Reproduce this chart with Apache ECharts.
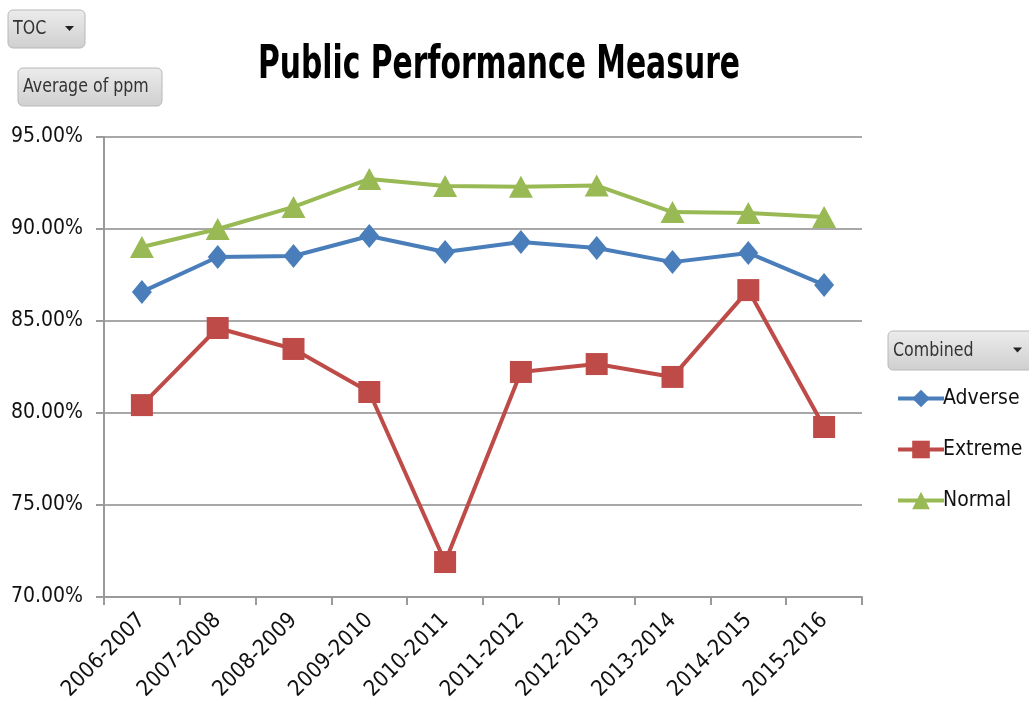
<!DOCTYPE html>
<html>
<head>
<meta charset="utf-8">
<script src="https://cdn.jsdelivr.net/npm/echarts@6/dist/echarts.min.js"></script>
<style>
  html, body { margin: 0; padding: 0; background: #fff; }
  #chart { width: 1029px; height: 723px; }
</style>
</head>
<body>
<div id="chart"></div>
<script>
const seasons = ["2006-2007", "2007-2008", "2008-2009", "2009-2010", "2010-2011",
  "2011-2012", "2012-2013", "2013-2014", "2014-2015", "2015-2016"];
const adverse = [86.58, 88.48, 88.53, 89.62, 88.75, 89.29, 88.97, 88.2, 88.7, 86.96];
const extreme = [80.43, 84.62, 83.48, 81.14, 71.9, 82.23, 82.66, 81.96, 86.68, 79.24];
const normal = [89.02, 90.0, 91.2, 92.72, 92.34, 92.3, 92.36, 90.92, 90.87, 90.65];

const FONT = "'DejaVu Sans Condensed', 'Liberation Sans', sans-serif";

const chart = echarts.init(document.getElementById("chart"));

// grey pivot-table style buttons
function button(x, y, w, h, label, arrow) {
  const children = [
    {
      type: "rect",
      shape: { x: 0, y: 0, width: w, height: h, r: 5 },
      style: {
        fill: new echarts.graphic.LinearGradient(0, 0, 0, 1, [
          { offset: 0, color: "#ececec" },
          { offset: 1, color: "#cfcfcf" },
        ]),
        stroke: "#b8b8b8",
        lineWidth: 1,
      },
    },
    {
      type: "text",
      x: 5,
      y: h / 2,
      scaleX: 0.88,
      style: { text: label, fill: "#333", font: "20px " + FONT, verticalAlign: "middle" },
    },
  ];
  if (arrow) {
    children.push({
      type: "polygon",
      shape: { points: [[w - 20, h / 2 - 3], [w - 11, h / 2 - 3], [w - 15.5, h / 2 + 2]] },
      style: { fill: "#222" },
    });
  }
  return { type: "group", x, y, children };
}

const mk = (name, data, color, symbol, size) => ({
  name,
  type: "line",
  data,
  symbol,
  symbolSize: size,
  showAllSymbol: true,
  lineStyle: { color, width: 4 },
  itemStyle: { color },
  z: 3,
});

chart.setOption({
  animation: false,
  graphic: [
    {
      type: "text",
      x: 499,
      y: 43,
      scaleX: 0.72,
      style: {
        text: "Public Performance Measure",
        font: "bold 46px " + FONT,
        fill: "#000",
        align: "center",
        verticalAlign: "top",
      },
    },
    button(8, 10, 77, 38, "TOC", true),
    button(18, 68, 144, 38, "Average of ppm", false),
    button(888, 331, 145, 39, "Combined", true),
  ],
  legend: {
    orient: "vertical",
    left: 891,
    top: 383,
    itemWidth: 46,
    itemHeight: 22,
    itemGap: 30,
    lineStyle: { width: 4 },
    textStyle: { fontFamily: FONT, fontSize: 21, color: "#111", padding: [0, 0, 0, -6] },
    data: ["Adverse", "Extreme", "Normal"],
  },
  grid: { left: 104, right: 167, top: 137, bottom: 126, containLabel: false },
  xAxis: {
    type: "category",
    data: seasons,
    boundaryGap: true,
    axisLine: { lineStyle: { color: "#9a9a9a", width: 2 } },
    axisTick: { show: true, length: 8, lineStyle: { color: "#9a9a9a", width: 2 } },
    axisLabel: { rotate: 45, fontFamily: FONT, fontSize: 22, color: "#111", margin: 20 },
  },
  yAxis: {
    type: "value",
    min: 70,
    max: 95,
    interval: 5,
    axisLine: { show: true, lineStyle: { color: "#9a9a9a", width: 2 } },
    axisTick: { show: true, length: 8, lineStyle: { color: "#9a9a9a", width: 2 } },
    splitLine: { lineStyle: { color: "#a8a8a8", width: 2 } },
    axisLabel: {
      fontFamily: FONT,
      fontSize: 21,
      color: "#111",
      margin: 21,
      formatter: (v) => v.toFixed(2) + "%",
    },
  },
  series: [
    mk("Adverse", adverse, "#4a7ebb", "diamond", [20, 24]),
    mk("Extreme", extreme, "#be4b48", "rect", 22),
    mk("Normal", normal, "#98b954", "triangle", [24, 22]),
  ],
});
</script>
</body>
</html>
